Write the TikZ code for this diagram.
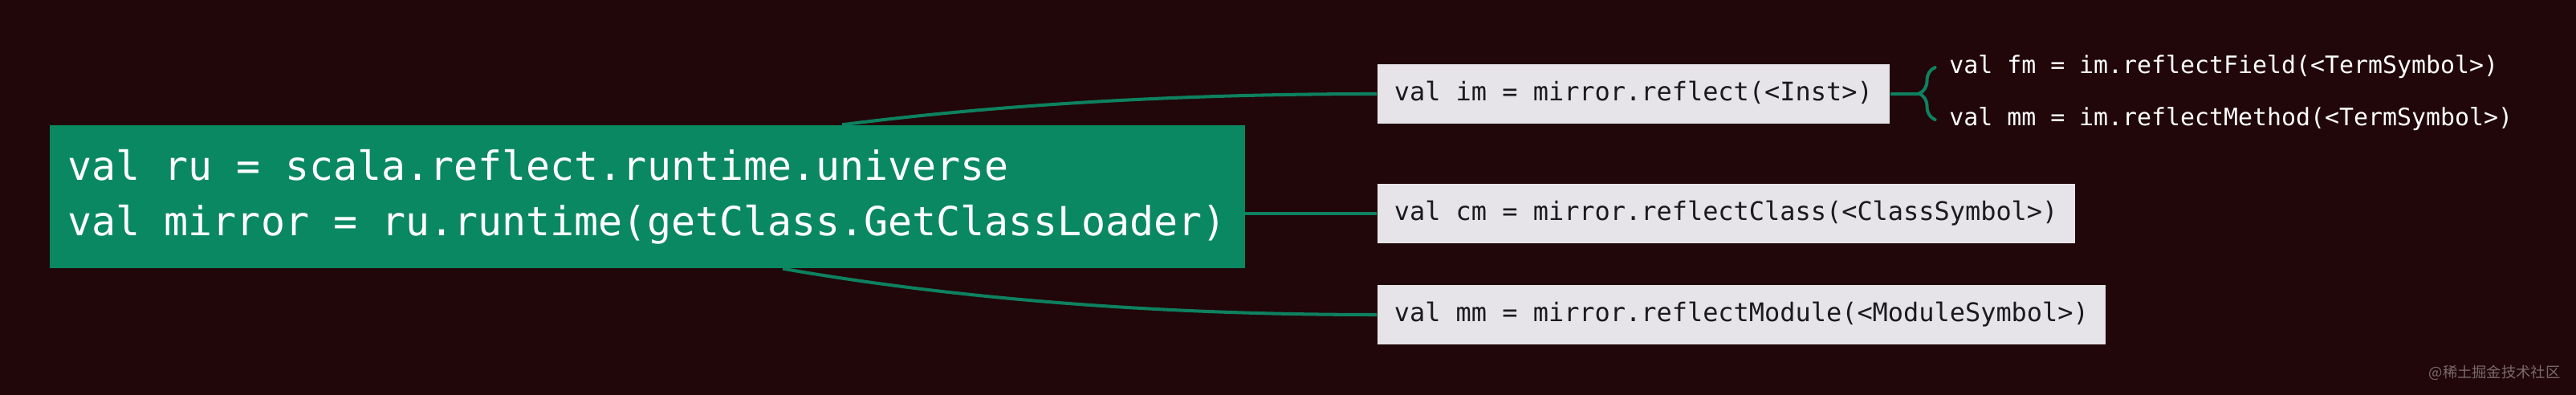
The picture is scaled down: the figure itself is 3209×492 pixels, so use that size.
\documentclass[tikz,border=0pt]{standalone}
\usepackage{fontspec}
\setmonofont{DejaVu Sans Mono}
\newfontfamily\cjkfont{Noto Sans CJK SC}
\usetikzlibrary{positioning, calc, decorations.pathreplacing}

\definecolor{bgdark}{HTML}{210709}
\definecolor{rootgreen}{HTML}{0A8862}
\definecolor{linkgreen}{HTML}{0D8160}
\definecolor{leafgrey}{HTML}{E6E4E9}
\definecolor{leafink}{HTML}{1C1A1E}
\definecolor{markgrey}{HTML}{7A6A6B}

\tikzset{
	rootbox/.style={fill=rootgreen, text=white, align=left, anchor=west,
		inner xsep=6.5pt, minimum height=50.6pt,
		font=\ttfamily\fontsize{14.2pt}{19.6pt}\selectfont},
	leafbox/.style={fill=leafgrey, text=leafink, anchor=west,
		inner xsep=6pt, minimum height=21pt, text height=7pt, text depth=2pt,
		font=\ttfamily\fontsize{9.08pt}{11pt}\selectfont},
	subleaf/.style={text=white, anchor=west, inner sep=0pt,
		text height=6.5pt, text depth=2pt,
		font=\ttfamily\fontsize{8.5pt}{10pt}\selectfont},
	link/.style={draw=linkgreen, line width=1.15pt},
}

\begin{document}
\begin{tikzpicture}[x=0.01cm, y=-0.01cm]
	\fill[bgdark] (0,0) rectangle (3209,492);
	\useasboundingbox (0,0) rectangle (3209,492);

	\node[rootbox] (ru) at (61,245) {val ru = scala.reflect.runtime.universe\\val mirror = ru.runtime(getClass.GetClassLoader)};

	\node[leafbox] (im) at (1715,117) {val im = mirror.reflect(<Inst>)};
	\node[leafbox] (cm) at (1715,266) {val cm = mirror.reflectClass(<ClassSymbol>)};
	\node[leafbox] (mm) at (1715,392) {val mm = mirror.reflectModule(<ModuleSymbol>)};

	\coordinate (brc) at ($(im.east)+(56,0)$);
	\node[subleaf, right=17 of brc, yshift=0.33cm] (fm) {val fm = im.reflectField(<TermSymbol>)};
	\node[subleaf, right=17 of brc, yshift=-0.32cm] (mt) {val mm = im.reflectMethod(<TermSymbol>)};

	% branches out of the root
	\coordinate (imsrc) at ($(ru.north)+(243,0)$);
	\coordinate (mmsrc) at ($(ru.south)+(169,0)$);
	\draw[link] (imsrc) .. controls +(197,-25) and +(-247,0) .. (im.west);
	\draw[link] (ru.east |- cm.west) -- (cm.west);
	\draw[link] (mmsrc) .. controls +(214,37) and +(-279,0) .. (mm.west);

	% brace to the instance members
	\draw[link] (im.east) -- ++(36,0);
	\draw[link, line cap=round, decorate, decoration={brace, amplitude=5.7pt}]
		(brc |- mt.west) -- (brc |- fm.west);

	\node[anchor=east, text=markgrey, inner sep=0pt, font=\cjkfont\fontsize{5.2pt}{6pt}\selectfont] (wm) at (3190,464) {@稀土掘金技术社区};
\end{tikzpicture}
\end{document}
